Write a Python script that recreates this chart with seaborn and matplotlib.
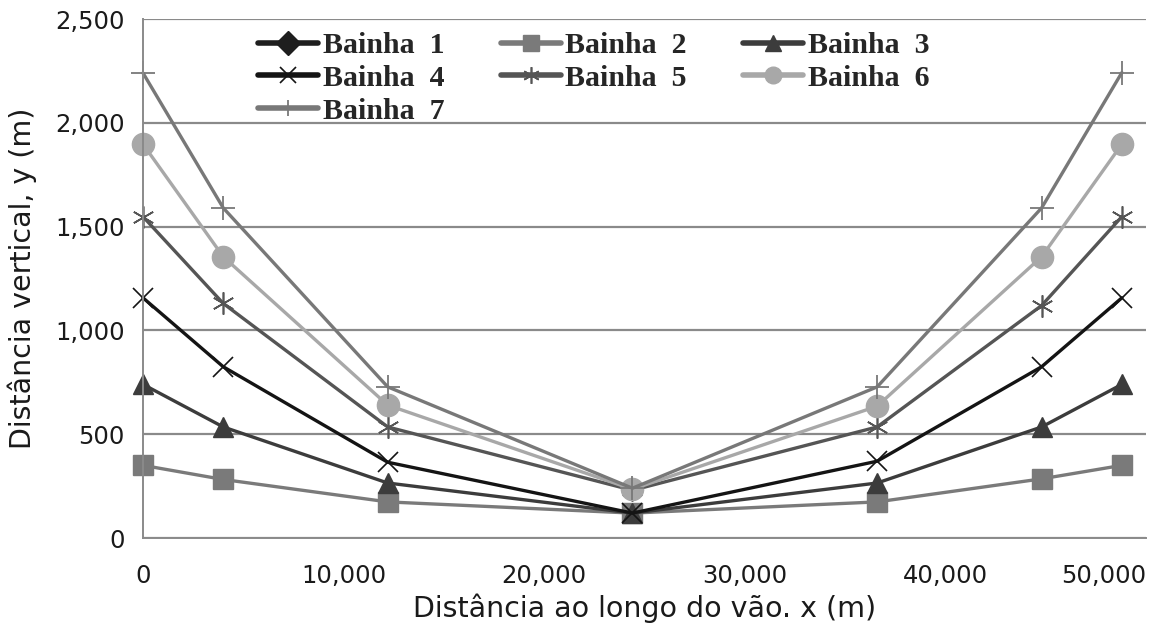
import numpy as np
import pandas as pd
import matplotlib
matplotlib.use("Agg")
import matplotlib.pyplot as plt
import seaborn as sns

# ---- data ----
x_vals = [0, 4000, 12200, 24400, 36600, 44800, 48800]
bainha1 = [np.nan, np.nan, np.nan, 120, np.nan, np.nan, np.nan]
bainha2 = [350, 282, 174, 120, 174, 285, 350]
bainha3 = [740, 535, 265, 120, 265, 535, 740]
bainha4 = [1157, 825, 365, 120, 370, 825, 1157]
bainha5 = [1548, 1130, 535, 230, 535, 1120, 1548]
bainha6 = [1897, 1355, 640, 235, 635, 1355, 1897]
bainha7 = [2240, 1590, 728, 240, 728, 1590, 2242]
series_names = ["Bainha  1", "Bainha  2", "Bainha  3", "Bainha  4",
                "Bainha  5", "Bainha  6", "Bainha  7"]
y_ticks = [0, 500, 1000, 1500, 2000, 2500]
x_ticks = [0, 10000, 20000, 30000, 40000, 50000]

all_series = [bainha1, bainha2, bainha3, bainha4, bainha5, bainha6, bainha7]

# ---- style ----
colors = ["#1e1e1e", "#7a7a7a", "#3c3c3c", "#141414", "#555555", "#a8a8a8", "#787878"]
markers = ["D", "s", "^", "x", (6, 2, 0), "o", "+"]
msizes = [10, 15, 15, 15, 16, 16, 17]
mews = [1, 1, 1, 1.2, 1.2, 1, 1.3]

sns.set_style("white")
plt.rcParams["font.family"] = ["DejaVu Sans"]

fig = plt.figure(figsize=(11.56, 6.23), dpi=100)
ax = fig.add_axes([0.1237, 0.1364, 0.8676, 0.8331])

for name, vals, c, m, ms, mew in zip(series_names, all_series, colors, markers, msizes, mews):
    df = pd.DataFrame({"x": x_vals, "y": vals}).dropna()
    sns.lineplot(data=df, x="x", y="y", ax=ax, color=c, marker=m, markersize=ms,
                 markeredgewidth=mew, markeredgecolor=c, markerfacecolor=c,
                 linewidth=2.4, label=name, estimator=None, sort=False, clip_on=False)

ax.set_xlim(0, 50000)
ax.set_ylim(0, 2500)
ax.set_xticks(x_ticks)
ax.set_yticks(y_ticks)
ax.set_xticklabels([f"{v:,}" for v in x_ticks])
ax.set_yticklabels([f"{v:,}" for v in y_ticks])
ax.tick_params(axis="both", labelsize=17.5, colors="#555555", length=7, width=1.2,
               direction="out", labelcolor="#1a1a1a")
ax.tick_params(axis="x", pad=12)
ax.tick_params(axis="y", pad=6)
ax.get_xticklabels()[-1].set_horizontalalignment("right")
ax.yaxis.grid(True, color="#8a8a8a", linewidth=1.6)
ax.xaxis.grid(False)
for s in ["top", "right"]:
    ax.spines[s].set_visible(False)
for s in ["left", "bottom"]:
    ax.spines[s].set_color("#8a8a8a")
    ax.spines[s].set_linewidth(1.4)

ax.set_xlabel("Distância ao longo do vão. x (m)", fontsize=20.5, color="#1a1a1a", labelpad=4)
ax.set_ylabel("Distância vertical, y (m)", fontsize=20.5, color="#1a1a1a", labelpad=13)

handles, labels = ax.get_legend_handles_labels()
order = [0, 3, 6, 1, 4, 2, 5]
leg = ax.legend([handles[i] for i in order], [labels[i] for i in order],
                loc="upper left", bbox_to_anchor=(0.115, 0.975), ncol=3, frameon=False,
                prop={"family": "Liberation Serif", "weight": "bold", "size": 21.5},
                handlelength=2.0, handletextpad=0.15, columnspacing=1.9,
                labelspacing=0.2, borderpad=0, borderaxespad=0)
for h in leg.legend_handles:
    h.set_markersize(12)
    h.set_linewidth(4)

fig.savefig("out.png", dpi=100)
